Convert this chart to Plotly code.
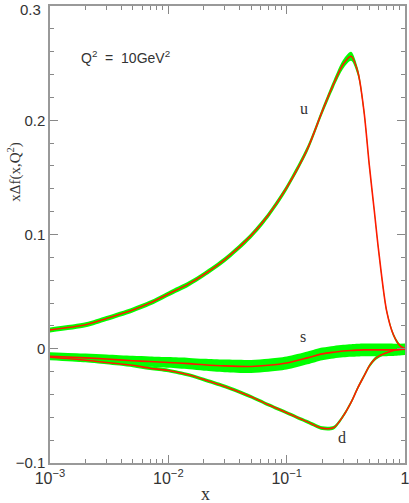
import plotly.graph_objects as go

# x grid shared by the three distributions
x = [0.001, 0.002, 0.003, 0.005, 0.007, 0.01, 0.015, 0.02, 0.03, 0.05, 0.07, 0.1,
     0.15, 0.2, 0.25, 0.3, 0.35, 0.4, 0.45, 0.5, 0.55, 0.6, 0.7, 0.8, 0.9, 1.0]

u = [0.0165, 0.021, 0.0265, 0.034, 0.040, 0.048, 0.057, 0.065, 0.078, 0.099, 0.117, 0.141,
     0.175, 0.208, 0.232, 0.249, 0.256, 0.242, 0.208, 0.160, 0.121, 0.085, 0.033, 0.012, 0.003, 0.0]
u_err = [0.0022, 0.0022, 0.0022, 0.0022, 0.0022, 0.0022, 0.0022, 0.0022, 0.0023, 0.0024, 0.0025, 0.0026,
         0.0028, 0.003, 0.0035, 0.004, 0.004, 0.0035, 0.003, 0.0025, 0.002, 0.002, 0.002, 0.0018, 0.0015, 0.001]

s = [-0.0065, -0.008, -0.009, -0.0105, -0.0112, -0.012, -0.013, -0.014, -0.015, -0.0155, -0.0145, -0.0125,
     -0.008, -0.0045, -0.003, -0.002, -0.0015, -0.0012, -0.001, -0.001, -0.001, -0.001, -0.001, -0.001, -0.0008, -0.0005]
s_err = [0.0035, 0.0038, 0.004, 0.0043, 0.0045, 0.0047, 0.005, 0.0052, 0.0055, 0.0057, 0.0057, 0.0057,
         0.0056, 0.0055, 0.0055, 0.0055, 0.0055, 0.0055, 0.0055, 0.0055, 0.0055, 0.0055, 0.0055, 0.0054, 0.0052, 0.005]

d = [-0.0075, -0.010, -0.012, -0.0145, -0.017, -0.019, -0.023, -0.027, -0.033, -0.042, -0.049, -0.056,
     -0.064, -0.0695, -0.069, -0.059, -0.047, -0.034, -0.024, -0.015, -0.0095, -0.0065, -0.0035, -0.0015, -0.0005, 0.0]
d_err = [0.0016] * len(x)

x_ticks = [0.001, 0.01, 0.1, 1]
x_ticktext = ['10<sup>\u22123</sup>', '10<sup>\u22122</sup>', '10<sup>\u22121</sup>', '1']
y_ticks = [-0.1, 0, 0.1, 0.2, 0.3]
y_ticktext = ['\u22120.1', '0', '0.1', '0.2', '']   # top label placed by hand so it is not clipped

fig = go.Figure()

for val, err in [(u, u_err), (s, s_err), (d, d_err)]:
    hi = [v + e for v, e in zip(val, err)]
    lo = [v - e for v, e in zip(val, err)]
    fig.add_trace(go.Scatter(x=x, y=hi, mode='lines', line=dict(width=0, shape='spline', smoothing=0.8),
                             showlegend=False, hoverinfo='skip'))
    fig.add_trace(go.Scatter(x=x, y=lo, mode='lines', line=dict(width=0, shape='spline', smoothing=0.8),
                             fill='tonexty', fillcolor='#00ff00', showlegend=False, hoverinfo='skip'))

for val in [u, s, d]:
    fig.add_trace(go.Scatter(x=x, y=val, mode='lines',
                             line=dict(color='#ff1a00', width=1.6, shape='spline', smoothing=0.8),
                             showlegend=False))

minor_x = [m * 10 ** e for e in (-3, -2, -1) for m in range(2, 10)]

fig.update_xaxes(type='log', range=[-3, 0], tickmode='array', tickvals=x_ticks, ticktext=x_ticktext,
                 ticks='inside', ticklen=8, tickcolor='#888', tickwidth=1.2, automargin=False,
                 ticklabeloverflow='allow',
                 showline=True, linecolor='#999', linewidth=1.5, mirror='allticks', showgrid=False,
                 zeroline=False, tickfont=dict(family='Liberation Sans', size=16, color='#333'),
                 minor=dict(tickmode='array', tickvals=minor_x, ticks='inside', ticklen=4,
                            tickcolor='#888', showgrid=False))
fig.update_yaxes(range=[-0.1, 0.3], tickmode='array', tickvals=y_ticks, ticktext=y_ticktext,
                 ticks='inside', ticklen=8, tickcolor='#888', tickwidth=1.2, automargin=False,
                 ticklabeloverflow='allow',
                 showline=True, linecolor='#999', linewidth=1.5, mirror='allticks', showgrid=False,
                 zeroline=False, tickfont=dict(family='Liberation Sans', size=15, color='#333'),
                 minor=dict(dtick=0.02, ticks='inside', ticklen=4, tickcolor='#888', showgrid=False))

fig.add_annotation(xref='paper', yref='paper', x=-0.022, y=1, yshift=6, text='0.3', showarrow=False,
                   xanchor='right', yanchor='top', borderpad=0,
                   font=dict(family='Liberation Sans', size=15, color='#333'))

txt = dict(family='Liberation Serif', size=16, color='#333')
fig.add_annotation(x=-2.754, y=0.255, text='Q<sup>2</sup>  =  10GeV<sup>2</sup>', showarrow=False,
                   xanchor='left', yanchor='middle', font=dict(family='Liberation Sans', size=14, color='#333'))
fig.add_annotation(x=-0.856, y=0.210, text='u', showarrow=False, font=txt)
fig.add_annotation(x=-0.864, y=0.0105, text='s', showarrow=False, font=txt)
fig.add_annotation(x=-0.534, y=-0.078, text='d', showarrow=False, font=txt)
fig.add_annotation(xref='paper', yref='paper', x=-0.099, y=0.637, text='x\u0394f(x,Q<sup>2</sup>)',
                   xanchor='center', yanchor='middle',
                   textangle=-90, showarrow=False, font=dict(family='Liberation Serif', size=15, color='#333'))
fig.add_annotation(xref='paper', yref='paper', x=0.437, y=-0.068, text='x', showarrow=False,
                   xanchor='center', yanchor='middle',
                   font=dict(family='Liberation Serif', size=18, color='#333'))

fig.update_layout(width=409, height=503, margin=dict(l=50, r=4, t=6, b=40),
                  plot_bgcolor='white', paper_bgcolor='white', showlegend=False)

# the page body has a default 8px margin; drop it so the figure fills the window
fig.write_html("out.html", config={'displayModeBar': False},
               post_script="document.body.style.margin='0';")
